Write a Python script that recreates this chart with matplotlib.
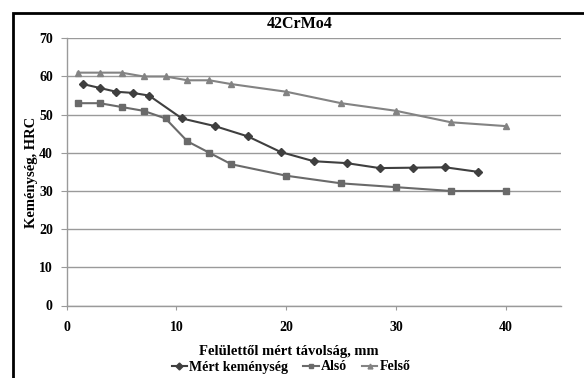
import matplotlib
matplotlib.use("Agg")
import matplotlib.pyplot as plt
from matplotlib.patches import Rectangle

title = "42CrMo4"
xlabel = "Felülettől mért távolság, mm"
ylabel = "Keménység, HRC"

mert_x = [1.5, 3, 4.5, 6, 7.5, 10.5, 13.5, 16.5, 19.5, 22.5, 25.5, 28.5, 31.5, 34.5, 37.5]
mert_y = [58, 57, 56, 55.7, 55, 49, 47, 44.3, 40.2, 37.8, 37.3, 36, 36.1, 36.2, 35]

band_x = [1, 3, 5, 7, 9, 11, 13, 15, 20, 25, 30, 35, 40]
also_y = [53, 53, 52, 51, 49, 43, 40, 37, 34, 32, 31, 30, 30]
felso_y = [61, 61, 61, 60, 60, 59, 59, 58, 56, 53, 51, 48, 47]

xticks = [0, 10, 20, 30, 40]
yticks = [0, 10, 20, 30, 40, 50, 60, 70]

plt.rcParams['font.family'] = ['Liberation Serif', 'DejaVu Serif']

W, H = 584, 378
fig = plt.figure(figsize=(W / 100, H / 100), dpi=100)
ax = fig.add_axes([66.7 / W, 1 - 305.5 / H, (560.7 - 66.7) / W, (305.5 - 38.3) / H])

ax.plot(mert_x, mert_y, color='#3f3f3f', lw=1.5, marker='D', ms=4.5, label='Mért keménység')
ax.plot(band_x, also_y, color='#6a6a6a', lw=1.5, marker='s', ms=4.5, label='Alsó')
ax.plot(band_x, felso_y, color='#838383', lw=1.5, marker='^', ms=4.5, label='Felső')

ax.set_xlim(0, 45)
ax.set_ylim(0, 70)
ax.set_xticks(xticks)
ax.set_yticks(yticks)
ax.yaxis.grid(True, color='#9a9a9a', lw=1)
ax.set_axisbelow(True)
for s in ['top', 'right']:
    ax.spines[s].set_visible(False)
for s in ['left', 'bottom']:
    ax.spines[s].set_color('#9a9a9a')
    ax.spines[s].set_linewidth(1)
ax.tick_params(axis='y', direction='out', length=4, color='#9a9a9a', labelsize=10, pad=6)
ax.tick_params(axis='x', direction='out', length=3, color='#9a9a9a', labelsize=10, pad=8)
for lbl in ax.get_xticklabels() + ax.get_yticklabels():
    lbl.set_fontweight('bold')

fig.text(300 / W, 1 - 24.5 / H, title, ha='center', va='center', fontsize=11.5, fontweight='bold')
fig.text(289 / W, 1 - 352 / H, xlabel, ha='center', va='center', fontsize=10.5, fontweight='bold')
fig.text(32 / W, 1 - 172 / H, ylabel, ha='center', va='center', rotation=90, fontsize=10.5, fontweight='bold')

leg = fig.legend(loc='center', bbox_to_anchor=(291 / W, 1 - 367 / H), ncol=3, frameon=False,
                 prop={'weight': 'bold', 'size': 10}, handlelength=1.1, handletextpad=0.15,
                 columnspacing=1.1, borderpad=0)
for h in leg.legend_handles:
    h.set_markersize(3.5)

fig.add_artist(Rectangle((13 / W, -0.1), 1.2, 1 - 13 / H + 0.1, transform=fig.transFigure,
                         fill=False, edgecolor='black', lw=2))

fig.savefig('out.png', dpi=100)
